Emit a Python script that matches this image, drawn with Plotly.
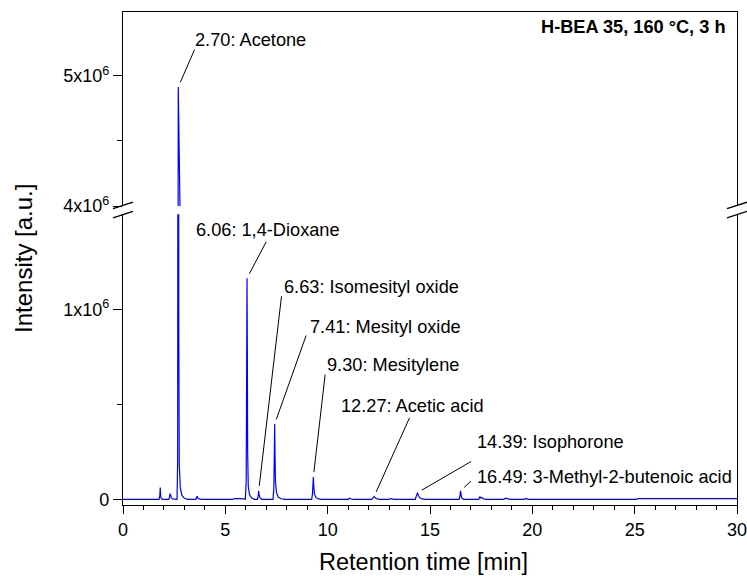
import plotly.graph_objects as go

# Chromatogram: retention time [min] and detector response [a.u.]
rt = [
    0.00, 1.76, 1.80, 1.82, 1.84, 1.88, 1.95,
    2.24, 2.28, 2.30, 2.33, 2.36, 2.42, 2.55,
    2.64, 2.67, 2.69, 2.70, 2.71, 2.725, 2.75, 2.80, 2.88, 3.00, 3.15,
    3.56, 3.60, 3.62, 3.65, 3.72, 3.85,
    5.35, 5.47, 5.60, 5.75, 5.90, 5.98,
    6.02, 6.045, 6.06, 6.075, 6.09, 6.12, 6.18, 6.28, 6.42,
    6.57, 6.61, 6.63, 6.65, 6.69, 6.78,
    7.33, 7.37, 7.40, 7.41, 7.425, 7.45, 7.50, 7.58, 7.72, 7.90,
    9.22, 9.26, 9.30, 9.32, 9.35, 9.42, 9.55, 9.70,
    11.00, 11.08, 11.15, 11.25,
    12.15, 12.24, 12.27, 12.32, 12.42, 12.55,
    13.00, 13.08, 13.16, 13.25,
    14.28, 14.34, 14.39, 14.43, 14.50, 14.62, 14.80,
    16.42, 16.46, 16.49, 16.51, 16.55, 16.65,
    17.38, 17.44, 17.48, 17.55, 17.62, 17.75,
    18.60, 18.70, 18.80, 18.90,
    19.60, 19.70, 19.80,
    25.10, 25.15, 30.00,
]
intensity = [
    0, 0, 20000, 62000, 15000, 3000, 0,
    0, 15000, 30000, 20000, 8000, 2000, 0,
    0, 200000, 2500000, 4915000, 3200000, 900000, 180000, 60000, 20000, 5000, 0,
    0, 8000, 16000, 8000, 2000, 0,
    0, 4000, 5000, 4000, 2000, 0,
    100000, 700000, 1163000, 800000, 250000, 70000, 25000, 8000, 0,
    0, 20000, 45000, 25000, 8000, 0,
    0, 60000, 300000, 396000, 250000, 90000, 35000, 12000, 3000, 0,
    0, 30000, 117000, 70000, 30000, 10000, 2000, 0,
    0, 6000, 1500, 0,
    0, 10000, 15000, 8000, 2000, 0,
    0, 4000, 1000, 0,
    0, 15000, 35000, 20000, 8000, 2000, 0,
    0, 15000, 45000, 20000, 6000, 0,
    0, 15000, 6000, 8000, 2000, 0,
    0, 6000, 2000, 0,
    0, 5000, 0,
    0, 4000, 4000,
]

# Identified compounds
peak_rt = [2.70, 6.06, 6.63, 7.41, 9.30, 12.27, 14.39, 16.49]
peak_height = [4915000, 1163000, 45000, 396000, 117000, 15000, 35000, 45000]
peak_name = ["Acetone", "1,4-Dioxane", "Isomesityl oxide", "Mesityl oxide",
             "Mesitylene", "Acetic acid", "Isophorone", "3-Methyl-2-butenoic acid"]

# Axis ticks
x_range = [0, 30]
low_range = [-30000, 1500000]
high_range = [4000000, 5492000]
low_tickvals = [0, 1000000]
low_ticktext = ["0", "1x10<sup>6</sup>"]
high_tickvals = [4000000, 5000000]
high_ticktext = ["4x10<sup>6</sup>", "5x10<sup>6</sup>"]

# Label placement (pixel offsets from each peak apex):
# text left/middle point, and leader-line tail
text_dx = [15, -53, 23, 33, 12, -35, 57, 14]
text_dy = [-47, -48, -204, -97, -112, -90, -51, -14]
line_dx = [17, 20, 23, 32, 12, 36, 55, 12]
line_dy = [-39, -38, -196, -90, -104, -80, -32, -11]

FONT = "Arial, 'Liberation Sans', sans-serif"
BLUE = "#0000FF"
LABEL_SIZE = 18.2

low_dom = [0.0, 0.590]
high_dom = [0.6065, 1.0]

fig = go.Figure()
for xa, ya in (("x", "y"), ("x2", "y2")):
    fig.add_trace(go.Scatter(
        x=rt, y=intensity, xaxis=xa, yaxis=ya, mode="lines",
        line=dict(color=BLUE, width=1.2), showlegend=False, hoverinfo="skip",
    ))

axis_common = dict(
    showline=True, linecolor="black", linewidth=1.3,
    showgrid=False, zeroline=False, automargin=False,
    tickcolor="black", tickwidth=1.3,
    tickfont=dict(family=FONT, size=18, color="black"),
    ticklabeloverflow="allow",
)

fig.update_layout(
    width=747, height=576, autosize=False,
    margin=dict(l=123, r=10, t=12, b=71),
    paper_bgcolor="white", plot_bgcolor="white",
    font=dict(family=FONT, color="black"),
    showlegend=False,
    xaxis=dict(domain=[0, 1], anchor="y", range=x_range, ticks="outside",
               ticklen=8, dtick=5, tick0=0,
               minor=dict(ticks="outside", ticklen=4, dtick=1, tick0=0,
                          tickcolor="black", tickwidth=1.3),
               **axis_common),
    xaxis2=dict(domain=[0, 1], anchor="y2", matches="x", range=x_range,
                side="top", ticks="", showticklabels=False, **axis_common),
    yaxis=dict(domain=low_dom, anchor="x", range=low_range, mirror=True,
               ticks="outside", ticklen=9, tickmode="array",
               tickvals=low_tickvals, ticktext=low_ticktext,
               minor=dict(ticks="outside", ticklen=5, tickmode="array",
                          tickvals=[500000], tickcolor="black", tickwidth=1.3),
               **axis_common),
    yaxis2=dict(domain=high_dom, anchor="x2", range=high_range, mirror=True,
                ticks="outside", ticklen=9, tickmode="array",
                tickvals=high_tickvals, ticktext=high_ticktext,
                minor=dict(ticks="outside", ticklen=5, tickmode="array",
                           tickvals=[4500000], tickcolor="black", tickwidth=1.3),
                **axis_common),
)

# Peak labels with leader lines
for i, (t, h, name) in enumerate(zip(peak_rt, peak_height, peak_name)):
    yref = "y2" if h > low_range[1] else "y"
    xref = "x2" if yref == "y2" else "x"
    fig.add_annotation(
        x=t, y=h, xref=xref, yref=yref, text=f"{t:.2f}: {name}",
        showarrow=False, xanchor="left", yanchor="middle",
        xshift=text_dx[i], yshift=-text_dy[i],
        font=dict(family=FONT, size=LABEL_SIZE, color="black"),
    )
    fig.add_annotation(
        x=t, y=h, xref=xref, yref=yref, text="",
        showarrow=True, ax=line_dx[i], ay=line_dy[i],
        arrowhead=0, arrowwidth=1, arrowcolor="black", standoff=5,
    )

# Axis titles and sample caption
fig.add_annotation(
    xref="paper", yref="paper", x=-0.1629, y=0.501, text="Intensity [a.u.]",
    textangle=-90, showarrow=False, xanchor="center", yanchor="middle",
    font=dict(family=FONT, size=24, color="black"),
)
fig.add_annotation(
    xref="paper", yref="paper", x=0.490, y=-0.1156, text="Retention time [min]",
    showarrow=False, xanchor="center", yanchor="middle",
    font=dict(family=FONT, size=23.5, color="black"),
)
fig.add_annotation(
    xref="paper", yref="paper", x=0.6775, y=0.9696,
    text="<b>H-BEA 35, 160 °C, 3 h</b>",
    showarrow=False, xanchor="left", yanchor="middle",
    font=dict(family=FONT, size=LABEL_SIZE, color="black"),
)

# Axis-break marks on both vertical axes
gap_mid = (low_dom[1] + high_dom[0]) / 2
plot_w, plot_h = 747 - 123 - 10, 576 - 12 - 71
half_w = 10 / plot_w
rise = 6.5 / plot_h
sep = 4.6 / plot_h
for x0 in (0.0, 1.0):
    for s in (-1, 1):
        yc = gap_mid + s * sep
        fig.add_shape(
            type="line", xref="paper", yref="paper",
            x0=x0 - half_w, y0=yc - rise / 2, x1=x0 + half_w, y1=yc + rise / 2,
            line=dict(color="black", width=1.3),
        )

fig.write_html("out.html")
